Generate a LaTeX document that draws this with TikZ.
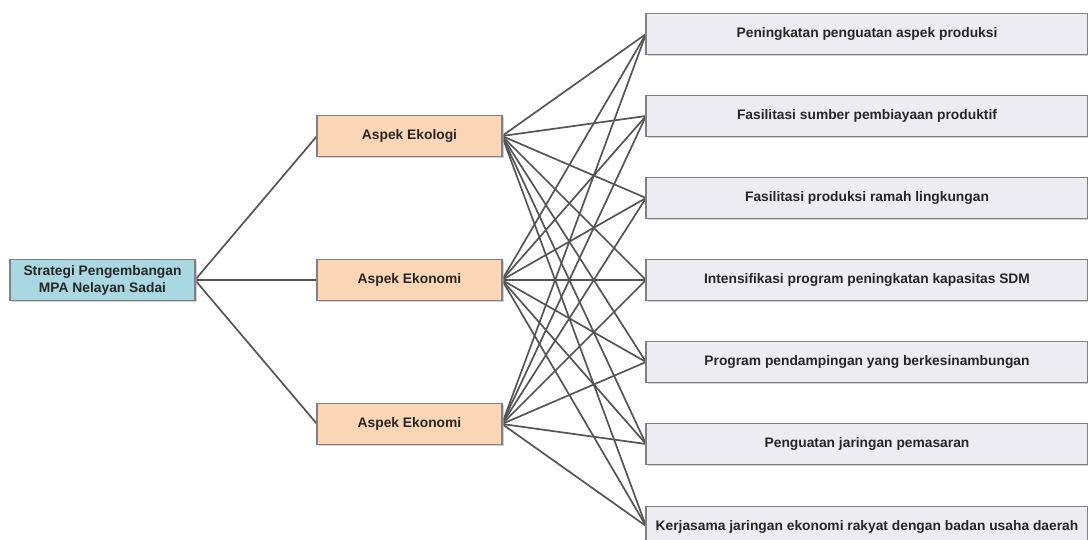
\documentclass[tikz,border=0pt]{standalone}
\usepackage{fontspec}
\setmainfont{Liberation Sans}
\usetikzlibrary{shadows}
\definecolor{rootfill}{RGB}{170,216,226}
\definecolor{aspfill}{RGB}{251,214,182}
\definecolor{itemfill}{RGB}{238,236,243}
\definecolor{bordergray}{RGB}{128,128,128}
\definecolor{linegray}{RGB}{85,85,85}
\begin{document}
\begin{tikzpicture}[x=1pt,y=-1pt,
  boxbase/.style={draw=bordergray, line width=1.2pt, inner sep=0pt, font=\fontsize{13.8}{17}\selectfont\bfseries, text=black!85, align=center,
    drop shadow={shadow xshift=1.5pt, shadow yshift=-1.5pt, fill=black!30, opacity=0.6}},
  rootbox/.style={boxbase, fill=rootfill, minimum width=185pt, minimum height=41pt},
  aspbox/.style={boxbase, fill=aspfill, minimum width=185pt, minimum height=41pt},
  itembox/.style={boxbase, fill=itemfill, minimum width=442pt, minimum height=41pt},
  conn/.style={draw=linegray, line width=1.7pt}]
\useasboundingbox (0,0) rectangle (1088,540);
\begin{scope}
\clip (0,0) rectangle (1088,540);
% connectors first (under boxes)
\coordinate (rootR) at (195,280);
\foreach \n/\y in {a1/136,a2/280,a3/424}{
  \coordinate (\n L) at (317,\y);
  \coordinate (\n R) at (502,\y);
}
\foreach \n/\y in {i1/34,i2/116,i3/198,i4/280,i5/362,i6/444,i7/526}{
  \coordinate (\n L) at (646,\y);
}
\foreach \a in {a1,a2,a3}{
  \draw[conn] (rootR) -- (\a L);
  \foreach \i in {i1,i2,i3,i4,i5,i6,i7}{
    \draw[conn] (\a R) -- (\i L);
  }
}
\node[rootbox] (root) at (102.5,280) {Strategi Pengembangan\\MPA Nelayan Sadai};
\node[aspbox] (a1) at (409.5,136) {Aspek Ekologi};
\node[aspbox] (a2) at (409.5,280) {Aspek Ekonomi};
\node[aspbox] (a3) at (409.5,424) {Aspek Ekonomi};
\node[itembox] (i1) at (867,34) {Peningkatan penguatan aspek produksi};
\node[itembox] (i2) at (867,116) {Fasilitasi sumber pembiayaan produktif};
\node[itembox] (i3) at (867,198) {Fasilitasi produksi ramah lingkungan};
\node[itembox] (i4) at (867,280) {Intensifikasi program peningkatan kapasitas SDM};
\node[itembox] (i5) at (867,362) {Program pendampingan yang berkesinambungan};
\node[itembox] (i6) at (867,444) {Penguatan jaringan pemasaran};
\node[itembox] (i7) at (867,527) {Kerjasama jaringan ekonomi rakyat dengan badan usaha daerah};
\end{scope}
\end{tikzpicture}
\end{document}
